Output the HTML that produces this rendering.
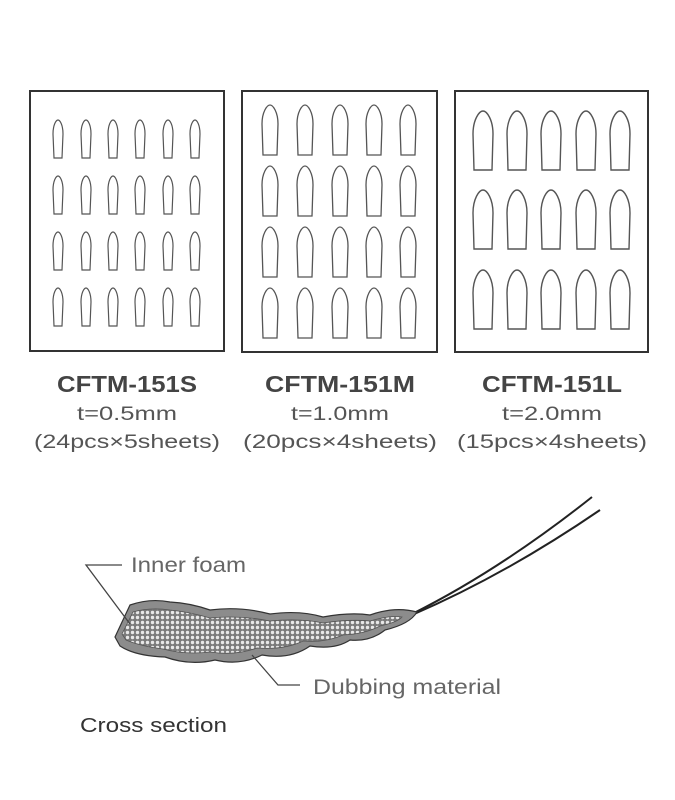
<!DOCTYPE html>
<html><head><meta charset="utf-8"><style>
html,body{margin:0;padding:0;background:#fff;}
svg{display:block;}
text{font-family:"Liberation Sans",sans-serif;}
</style></head><body>
<svg width="675" height="800" viewBox="0 0 675 800" xmlns="http://www.w3.org/2000/svg">
<defs>
<path id="s" d="M1,38 L0,14 C0,5 3,0 5,0 C7,0 10,5 10,14 L9,38 Z" fill="none" stroke="#555" stroke-width="1.2"/>
<path id="m" d="M1,50 L0,19 C0,7 5,0 8,0 C11,0 16,7 16,19 L15,50 Z" fill="none" stroke="#555" stroke-width="1.3"/>
<path id="l" d="M1,59 L0,23 C0,9 6,0 10,0 C14,0 20,9 20,23 L19,59 Z" fill="none" stroke="#555" stroke-width="1.4"/>
<pattern id="dots" width="5" height="5" patternUnits="userSpaceOnUse">
<rect width="5" height="5" fill="#7a7a7a"/>
<circle cx="2.5" cy="2.5" r="1.7" fill="#e8e8e8"/>
</pattern>
</defs>
<g fill="none" stroke="#333" stroke-width="2">
<rect x="30" y="91" width="194" height="260"/>
<rect x="242" y="91" width="195" height="261"/>
<rect x="455" y="91" width="193" height="261"/>
</g>
<g>
<g transform="translate(0,120)"><use href="#s" x="53"/><use href="#s" x="81"/><use href="#s" x="108"/><use href="#s" x="135"/><use href="#s" x="163"/><use href="#s" x="190"/></g>
<g transform="translate(0,176)"><use href="#s" x="53"/><use href="#s" x="81"/><use href="#s" x="108"/><use href="#s" x="135"/><use href="#s" x="163"/><use href="#s" x="190"/></g>
<g transform="translate(0,232)"><use href="#s" x="53"/><use href="#s" x="81"/><use href="#s" x="108"/><use href="#s" x="135"/><use href="#s" x="163"/><use href="#s" x="190"/></g>
<g transform="translate(0,288)"><use href="#s" x="53"/><use href="#s" x="81"/><use href="#s" x="108"/><use href="#s" x="135"/><use href="#s" x="163"/><use href="#s" x="190"/></g>
</g>
<g>
<g transform="translate(0,105)"><use href="#m" x="262"/><use href="#m" x="297"/><use href="#m" x="332"/><use href="#m" x="366"/><use href="#m" x="400"/></g>
<g transform="translate(0,166)"><use href="#m" x="262"/><use href="#m" x="297"/><use href="#m" x="332"/><use href="#m" x="366"/><use href="#m" x="400"/></g>
<g transform="translate(0,227)"><use href="#m" x="262"/><use href="#m" x="297"/><use href="#m" x="332"/><use href="#m" x="366"/><use href="#m" x="400"/></g>
<g transform="translate(0,288)"><use href="#m" x="262"/><use href="#m" x="297"/><use href="#m" x="332"/><use href="#m" x="366"/><use href="#m" x="400"/></g>
</g>
<g>
<g transform="translate(0,111)"><use href="#l" x="473"/><use href="#l" x="507"/><use href="#l" x="541"/><use href="#l" x="576"/><use href="#l" x="610"/></g>
<g transform="translate(0,190)"><use href="#l" x="473"/><use href="#l" x="507"/><use href="#l" x="541"/><use href="#l" x="576"/><use href="#l" x="610"/></g>
<g transform="translate(0,270)"><use href="#l" x="473"/><use href="#l" x="507"/><use href="#l" x="541"/><use href="#l" x="576"/><use href="#l" x="610"/></g>
</g>
<g fill="#444" text-anchor="middle">
<text x="127" y="392" font-size="23" font-weight="bold" textLength="140" lengthAdjust="spacingAndGlyphs">CFTM-151S</text>
<text x="340" y="392" font-size="23" font-weight="bold" textLength="150" lengthAdjust="spacingAndGlyphs">CFTM-151M</text>
<text x="552" y="392" font-size="23" font-weight="bold" textLength="140" lengthAdjust="spacingAndGlyphs">CFTM-151L</text>
<g fill="#555" font-size="19">
<text x="127" y="420" textLength="100" lengthAdjust="spacingAndGlyphs">t=0.5mm</text>
<text x="340" y="420" textLength="98" lengthAdjust="spacingAndGlyphs">t=1.0mm</text>
<text x="552" y="420" textLength="100" lengthAdjust="spacingAndGlyphs">t=2.0mm</text>
<text x="127" y="448" textLength="186" lengthAdjust="spacingAndGlyphs">(24pcs×5sheets)</text>
<text x="340" y="448" textLength="194" lengthAdjust="spacingAndGlyphs">(20pcs×4sheets)</text>
<text x="552" y="448" textLength="190" lengthAdjust="spacingAndGlyphs">(15pcs×4sheets)</text>
</g>
</g>
<g fill="none" stroke="#222" stroke-width="2">
<path d="M412,614 Q500,570 592,497"/>
<path d="M412,615 Q505,575 600,510"/>
</g>
<path d="M115,637 L130,605 Q150,598 170,602 Q190,603 210,610 Q240,606 270,614 Q300,610 323,617 Q350,612 370,615 Q395,606 417,612 Q410,624 385,630 Q370,642 350,640 Q335,650 310,646 Q290,660 262,655 Q240,666 215,660 Q190,666 165,657 Q135,656 120,646 Z" fill="#8c8c8c" stroke="#333" stroke-width="1.2"/>
<path d="M122,634 L133,612 Q150,607 170,610 Q190,612 210,618 Q240,615 270,621 Q300,618 323,623 Q350,619 370,621 Q390,615 402,617 Q398,622 380,626 Q365,634 343,635 Q325,643 303,641 Q285,650 257,648 Q235,656 210,652 Q185,655 163,649 Q140,646 126,640 Z" fill="url(#dots)" stroke="#555" stroke-width="0.8"/>
<g fill="none" stroke="#444" stroke-width="1.3">
<path d="M122,565 L86,565 L130,624"/>
<path d="M252,655 L278,685 L300,685"/>
</g>
<g fill="#666" font-size="21">
<text x="131" y="572" textLength="115" lengthAdjust="spacingAndGlyphs">Inner foam</text>
<text x="313" y="694" textLength="188" lengthAdjust="spacingAndGlyphs">Dubbing material</text>
</g>
<text x="80" y="732" font-size="20" fill="#333" textLength="147" lengthAdjust="spacingAndGlyphs">Cross section</text>
</svg>
</body></html>
